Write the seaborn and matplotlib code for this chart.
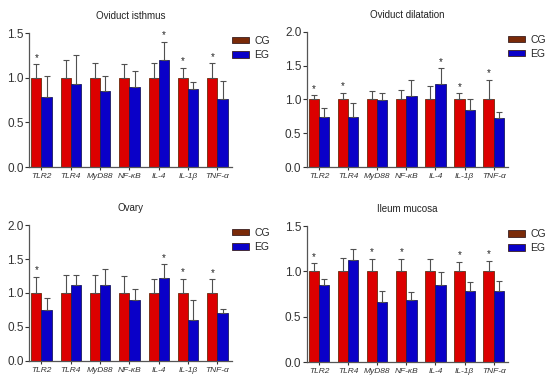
import numpy as np
import pandas as pd
import seaborn as sns
import matplotlib.pyplot as plt

genes = ['TLR2', 'TLR4', 'MyD88', 'NF-κB', 'IL-4', 'IL-1β', 'TNF-α']
groups = ['CG', 'EG']

# mean values (CG normalised to 1) and upper error bar tops
isthmus_cg = [1, 1, 1, 1, 1, 1, 1]
isthmus_cg_top = [1.15, 1.20, 1.16, 1.15, 1.16, 1.11, 1.16]
isthmus_eg = [0.78, 0.93, 0.85, 0.90, 1.20, 0.87, 0.76]
isthmus_eg_top = [1.02, 1.25, 1.02, 1.08, 1.40, 0.95, 0.96]
isthmus_star = [(0, 'CG'), (4, 'EG'), (5, 'CG'), (6, 'CG')]

dilat_cg = [1, 1, 1, 1, 1, 1, 1]
dilat_cg_top = [1.06, 1.10, 1.12, 1.14, 1.20, 1.09, 1.29]
dilat_eg = [0.74, 0.74, 0.99, 1.05, 1.23, 0.85, 0.72]
dilat_eg_top = [0.88, 0.95, 1.09, 1.29, 1.46, 1.00, 0.81]
dilat_star = [(0, 'CG'), (1, 'CG'), (4, 'EG'), (5, 'CG'), (6, 'CG')]

ovary_cg = [1, 1, 1, 1, 1, 1, 1]
ovary_cg_top = [1.24, 1.26, 1.27, 1.25, 1.20, 1.21, 1.20]
ovary_eg = [0.75, 1.12, 1.12, 0.90, 1.22, 0.60, 0.70]
ovary_eg_top = [0.92, 1.27, 1.36, 1.06, 1.42, 0.90, 0.77]
ovary_star = [(0, 'CG'), (4, 'EG'), (5, 'CG'), (6, 'CG')]

ileum_cg = [1, 1, 1, 1, 1, 1, 1]
ileum_cg_top = [1.09, 1.15, 1.14, 1.14, 1.14, 1.11, 1.12]
ileum_eg = [0.85, 1.13, 0.66, 0.69, 0.85, 0.78, 0.79]
ileum_eg_top = [0.92, 1.25, 0.78, 0.77, 0.99, 0.88, 0.90]
ileum_star = [(0, 'CG'), (2, 'CG'), (3, 'CG'), (5, 'CG'), (6, 'CG')]

panels = [
    ('Oviduct isthmus', isthmus_cg, isthmus_cg_top, isthmus_eg, isthmus_eg_top, isthmus_star, 1.5,
     [0.053, 0.565, 0.369, 0.349]),
    ('Oviduct dilatation', dilat_cg, dilat_cg_top, dilat_eg, dilat_eg_top, dilat_star, 2.0,
     [0.558, 0.565, 0.366, 0.352]),
    ('Ovary', ovary_cg, ovary_cg_top, ovary_eg, ovary_eg_top, ovary_star, 2.0,
     [0.053, 0.060, 0.369, 0.354]),
    ('Ileum mucosa', ileum_cg, ileum_cg_top, ileum_eg, ileum_eg_top, ileum_star, 1.5,
     [0.558, 0.057, 0.366, 0.354]),
]

fill = {'CG': '#dc0000', 'EG': '#0a00c8'}
edge = {'CG': '#6b2a0a', 'EG': '#1a1a60'}

sns.set_style('ticks')
plt.rcParams['font.family'] = ['Liberation Sans', 'DejaVu Sans']

fig = plt.figure(figsize=(5.5, 3.84), dpi=100)

for title, cg, cg_top, eg, eg_top, stars, ymax, pos in panels:
    ax = fig.add_axes(pos)
    df = pd.DataFrame({
        'gene': genes * 2,
        'group': ['CG'] * len(genes) + ['EG'] * len(genes),
        'value': list(cg) + list(eg),
    })
    sns.barplot(data=df, x='gene', y='value', hue='group', order=genes,
                hue_order=groups, palette=fill, width=0.7, ax=ax,
                errorbar=None, saturation=1, edgecolor='#3a2020', linewidth=0.6)
    tops = {'CG': cg_top, 'EG': eg_top}
    centers = {}
    for grp, cont in zip(groups, ax.containers):
        xs = np.array([p.get_x() + p.get_width() / 2 for p in cont.patches])
        hs = np.array([p.get_height() for p in cont.patches])
        for p in cont.patches:
            p.set_edgecolor(edge[grp])
        up = np.array(tops[grp]) - hs
        ax.errorbar(xs, hs, yerr=[np.zeros_like(up), up], fmt='none',
                    ecolor='#505050', elinewidth=0.8, capsize=2.2, capthick=0.8)
        centers[grp] = xs
    for i, grp in stars:
        ax.text(centers[grp][i], tops[grp][i] + ymax * 0.012, '*',
                ha='center', va='bottom', fontsize=7, color='#222222')
    ax.set_xlim(-0.42, 6.5)
    ax.set_ylim(0, ymax)
    ax.set_yticks(np.arange(0, ymax + 0.01, 0.5))
    ax.set_yticklabels([f'{v:.1f}' for v in np.arange(0, ymax + 0.01, 0.5)])
    ax.set_xlabel('')
    ax.set_ylabel('')
    ax.set_title(title, fontsize=7, pad=10, color='#222222')
    for lab in ax.get_xticklabels():
        lab.set_fontstyle('italic')
    ax.tick_params(axis='x', labelsize=6, length=2.5, width=0.8, pad=2, colors='#333333')
    ax.tick_params(axis='y', labelsize=8.5, length=3, width=0.8, pad=1, colors='#333333')
    for s in ['left', 'bottom']:
        ax.spines[s].set_color('#555555')
        ax.spines[s].set_linewidth(0.9)
    sns.despine(ax=ax)
    handles, labels = ax.get_legend_handles_labels()
    handles[0].set_facecolor('#7a2a08')
    ax.legend(handles, labels, loc='upper left', bbox_to_anchor=(0.98, 1.01),
              frameon=False, fontsize=7.5, handlelength=1.6, handleheight=0.6,
              labelspacing=0.4, handletextpad=0.5, borderaxespad=0)

fig.savefig('out.png', dpi=100)
